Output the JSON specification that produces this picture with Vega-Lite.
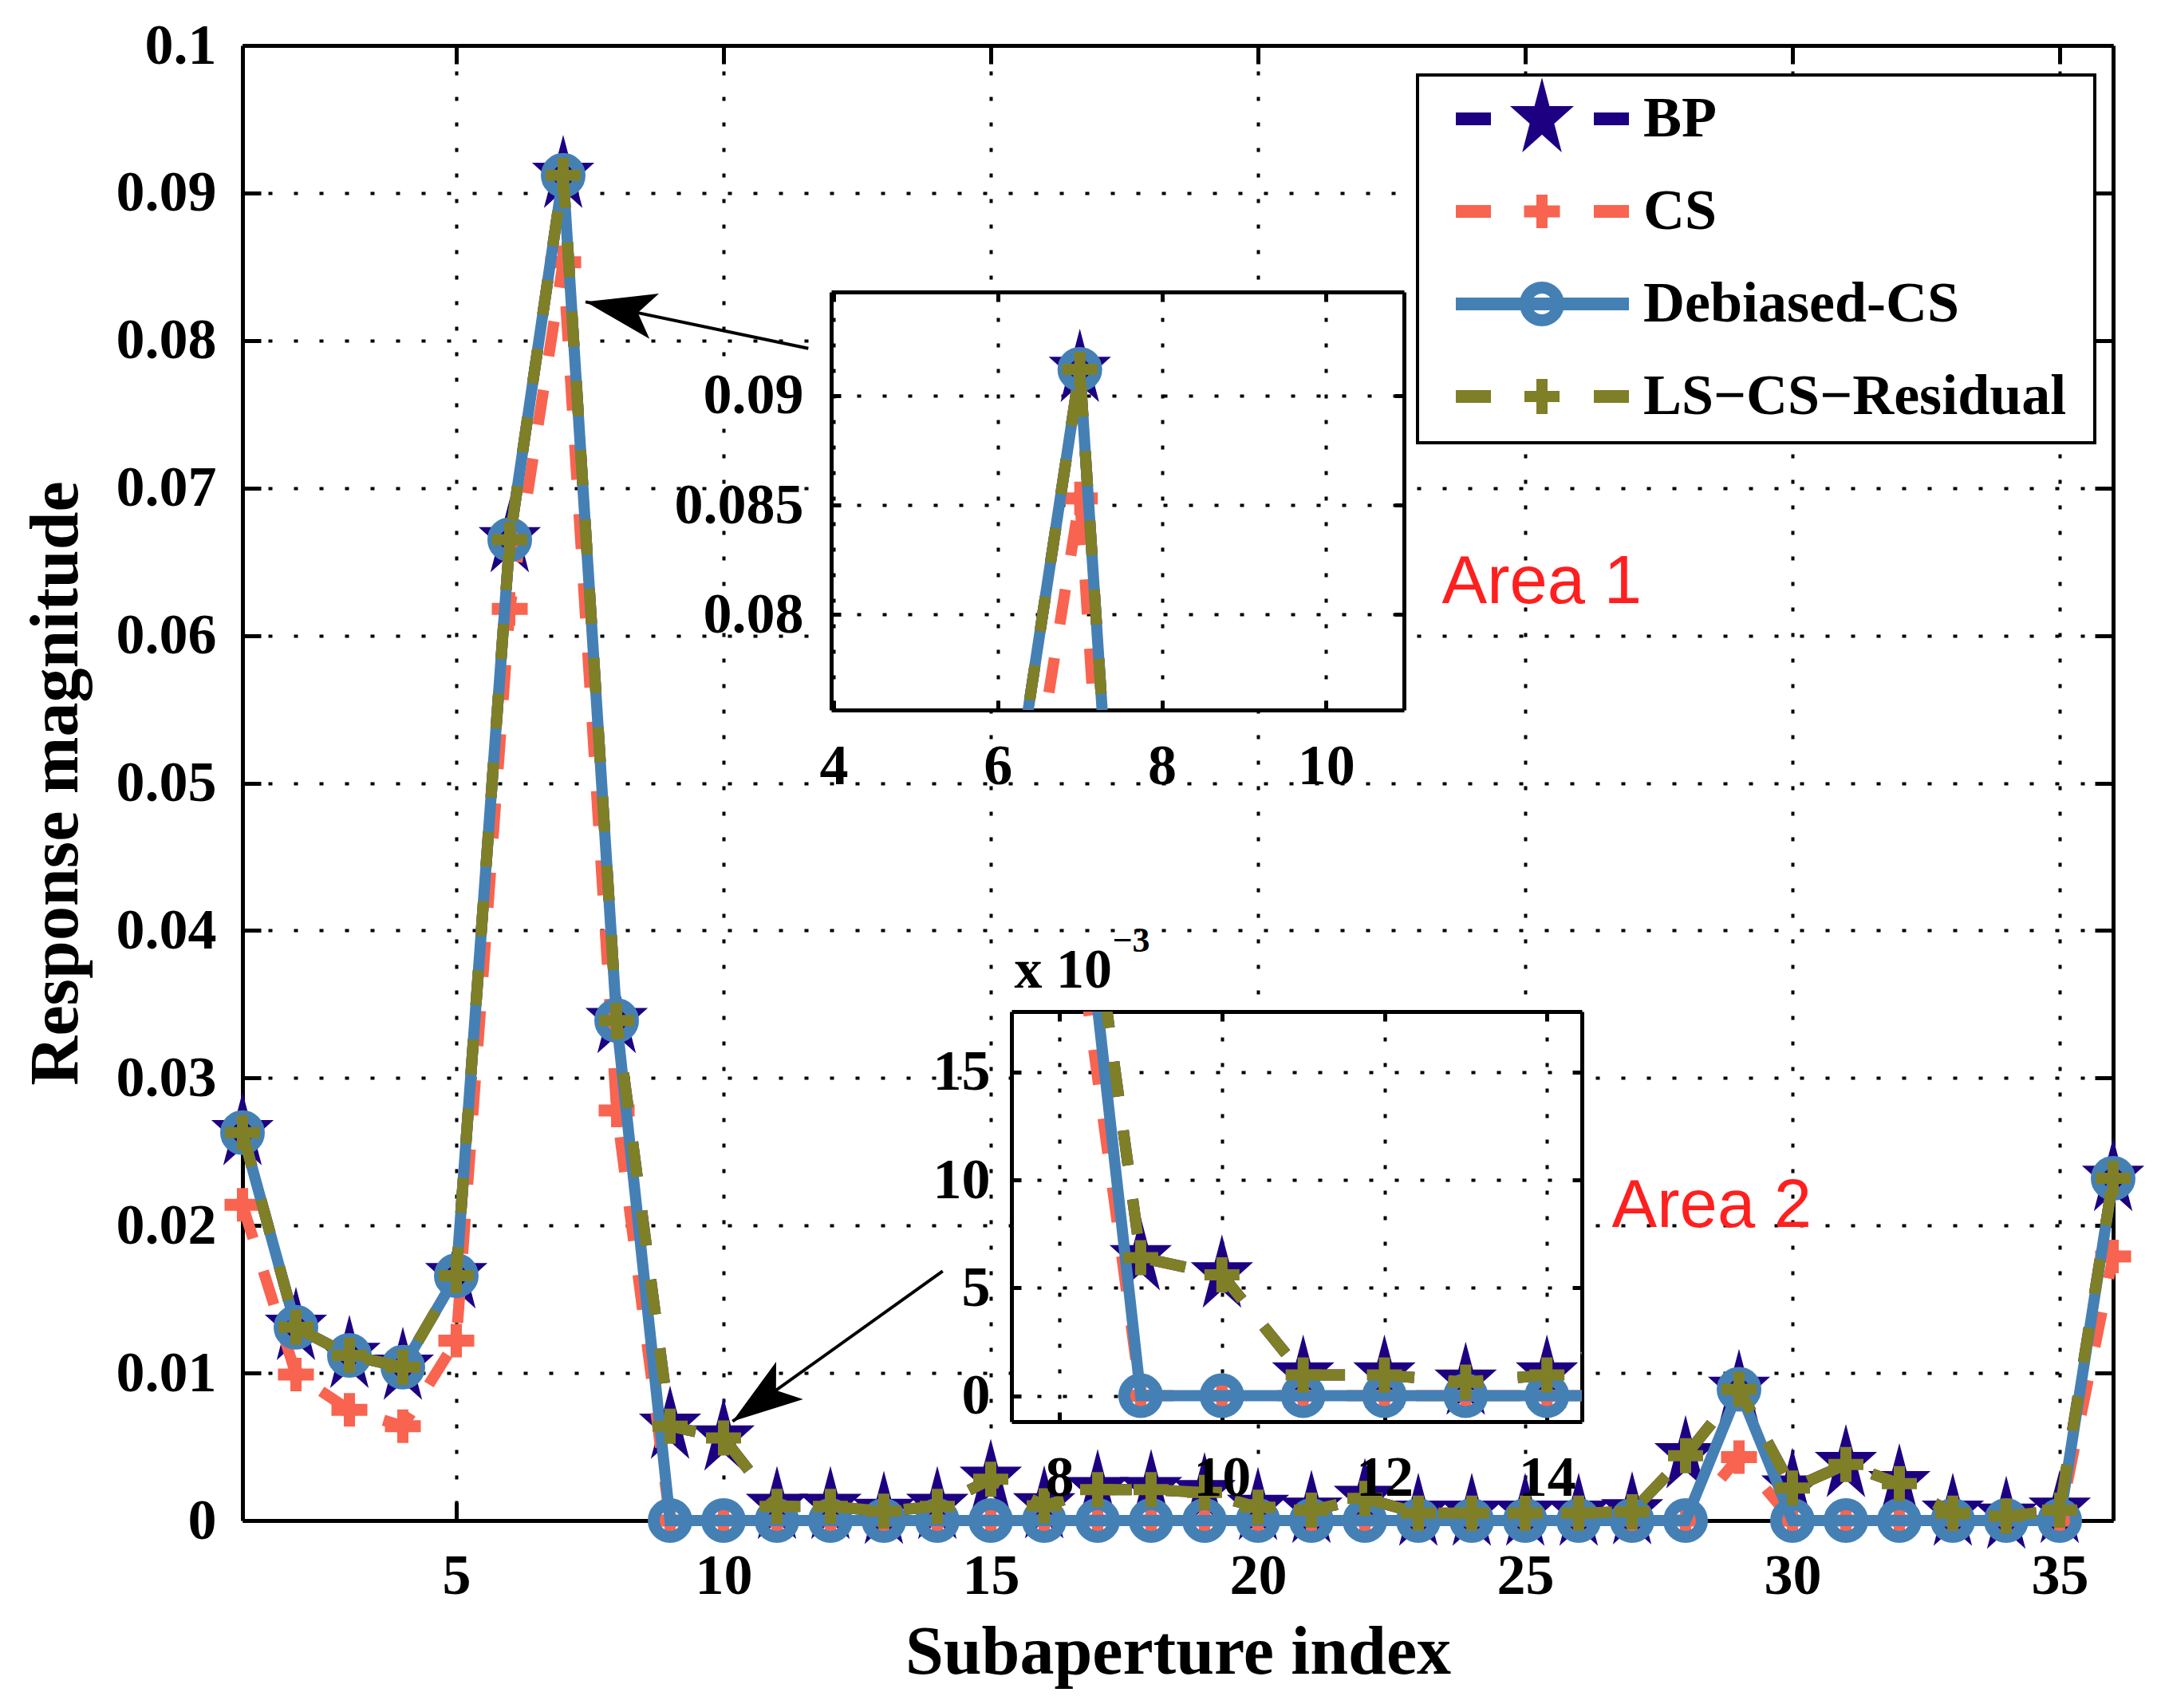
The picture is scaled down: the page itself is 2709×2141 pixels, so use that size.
{
  "$schema": "https://vega.github.io/schema/vega-lite/v6.json",
  "autosize": "none",
  "padding": {"left": 304, "top": 57, "right": 2405, "bottom": 2084},
  "background": "white",
  "config": {
    "view": {"stroke": null, "fill": "white"},
    "legend": {"strokeWidth": 4},
    "axis": {
      "labelFont": "Liberation Serif", "labelFontWeight": "bold", "labelFontSize": 72, "labelColor": "black",
      "titleFont": "Liberation Serif", "titleFontWeight": "bold", "titleFontSize": 86, "titleColor": "black",
      "domainColor": "black", "domainWidth": 5, "tickColor": "black", "tickWidth": 5,
      "gridColor": "black", "gridDash": [5, 27], "gridWidth": 4, "gridOpacity": 1,
      "labelFlush": false, "labelOverlap": false, "labelBound": false
    }
  },
  "datasets": {
    "d": [
      {"s":"BP","i":1,"v":0.0263},{"s":"BP","i":2,"v":0.0131},{"s":"BP","i":3,"v":0.0112},{"s":"BP","i":4,"v":0.0104},{"s":"BP","i":5,"v":0.0166},{"s":"BP","i":6,"v":0.0665},{"s":"BP","i":7,"v":0.0912},{"s":"BP","i":8,"v":0.0339},{"s":"BP","i":9,"v":0.0064},{"s":"BP","i":10,"v":0.0056},{"s":"BP","i":11,"v":0.00096},{"s":"BP","i":12,"v":0.00096},{"s":"BP","i":13,"v":0.00063},{"s":"BP","i":14,"v":0.00096},{"s":"BP","i":15,"v":0.0028},{"s":"BP","i":16,"v":0.001},{"s":"BP","i":17,"v":0.0021},{"s":"BP","i":18,"v":0.0021},{"s":"BP","i":19,"v":0.0019},{"s":"BP","i":20,"v":0.0009},{"s":"BP","i":21,"v":0.0007},{"s":"BP","i":22,"v":0.0015},{"s":"BP","i":23,"v":0.0005},{"s":"BP","i":24,"v":0.0005},{"s":"BP","i":25,"v":0.0005},{"s":"BP","i":26,"v":0.0005},{"s":"BP","i":27,"v":0.0006},{"s":"BP","i":28,"v":0.0044},{"s":"BP","i":29,"v":0.0089},{"s":"BP","i":30,"v":0.0022},{"s":"BP","i":31,"v":0.0038},{"s":"BP","i":32,"v":0.0025},{"s":"BP","i":33,"v":0.0005},{"s":"BP","i":34,"v":0.0003},{"s":"BP","i":35,"v":0.0007},{"s":"BP","i":36,"v":0.0232},
      {"s":"CS","i":1,"v":0.0214},{"s":"CS","i":2,"v":0.0099},{"s":"CS","i":3,"v":0.0075},{"s":"CS","i":4,"v":0.0064},{"s":"CS","i":5,"v":0.0122},{"s":"CS","i":6,"v":0.0618},{"s":"CS","i":7,"v":0.0853},{"s":"CS","i":8,"v":0.0278},{"s":"CS","i":9,"v":0},{"s":"CS","i":10,"v":0},{"s":"CS","i":11,"v":0},{"s":"CS","i":12,"v":0},{"s":"CS","i":13,"v":0},{"s":"CS","i":14,"v":0},{"s":"CS","i":15,"v":0},{"s":"CS","i":16,"v":0},{"s":"CS","i":17,"v":0},{"s":"CS","i":18,"v":0},{"s":"CS","i":19,"v":0},{"s":"CS","i":20,"v":0},{"s":"CS","i":21,"v":0},{"s":"CS","i":22,"v":0},{"s":"CS","i":23,"v":0},{"s":"CS","i":24,"v":0},{"s":"CS","i":25,"v":0},{"s":"CS","i":26,"v":0},{"s":"CS","i":27,"v":0},{"s":"CS","i":28,"v":0},{"s":"CS","i":29,"v":0.0043},{"s":"CS","i":30,"v":0},{"s":"CS","i":31,"v":0},{"s":"CS","i":32,"v":0},{"s":"CS","i":33,"v":0},{"s":"CS","i":34,"v":0},{"s":"CS","i":35,"v":0},{"s":"CS","i":36,"v":0.0179},
      {"s":"DCS","i":1,"v":0.0263},{"s":"DCS","i":2,"v":0.0131},{"s":"DCS","i":3,"v":0.0112},{"s":"DCS","i":4,"v":0.0104},{"s":"DCS","i":5,"v":0.0166},{"s":"DCS","i":6,"v":0.0665},{"s":"DCS","i":7,"v":0.0912},{"s":"DCS","i":8,"v":0.0339},{"s":"DCS","i":9,"v":0},{"s":"DCS","i":10,"v":0},{"s":"DCS","i":11,"v":0},{"s":"DCS","i":12,"v":0},{"s":"DCS","i":13,"v":0},{"s":"DCS","i":14,"v":0},{"s":"DCS","i":15,"v":0},{"s":"DCS","i":16,"v":0},{"s":"DCS","i":17,"v":0},{"s":"DCS","i":18,"v":0},{"s":"DCS","i":19,"v":0},{"s":"DCS","i":20,"v":0},{"s":"DCS","i":21,"v":0},{"s":"DCS","i":22,"v":0},{"s":"DCS","i":23,"v":0},{"s":"DCS","i":24,"v":0},{"s":"DCS","i":25,"v":0},{"s":"DCS","i":26,"v":0},{"s":"DCS","i":27,"v":0},{"s":"DCS","i":28,"v":0},{"s":"DCS","i":29,"v":0.0089},{"s":"DCS","i":30,"v":0},{"s":"DCS","i":31,"v":0},{"s":"DCS","i":32,"v":0},{"s":"DCS","i":33,"v":0},{"s":"DCS","i":34,"v":0},{"s":"DCS","i":35,"v":0},{"s":"DCS","i":36,"v":0.0232},
      {"s":"LS","i":1,"v":0.0263},{"s":"LS","i":2,"v":0.0131},{"s":"LS","i":3,"v":0.0112},{"s":"LS","i":4,"v":0.0104},{"s":"LS","i":5,"v":0.0166},{"s":"LS","i":6,"v":0.0665},{"s":"LS","i":7,"v":0.0912},{"s":"LS","i":8,"v":0.0339},{"s":"LS","i":9,"v":0.0064},{"s":"LS","i":10,"v":0.0056},{"s":"LS","i":11,"v":0.00096},{"s":"LS","i":12,"v":0.00096},{"s":"LS","i":13,"v":0.00063},{"s":"LS","i":14,"v":0.00096},{"s":"LS","i":15,"v":0.0028},{"s":"LS","i":16,"v":0.001},{"s":"LS","i":17,"v":0.0021},{"s":"LS","i":18,"v":0.0021},{"s":"LS","i":19,"v":0.0019},{"s":"LS","i":20,"v":0.0009},{"s":"LS","i":21,"v":0.0007},{"s":"LS","i":22,"v":0.0015},{"s":"LS","i":23,"v":0.0005},{"s":"LS","i":24,"v":0.0005},{"s":"LS","i":25,"v":0.0005},{"s":"LS","i":26,"v":0.0005},{"s":"LS","i":27,"v":0.0006},{"s":"LS","i":28,"v":0.0044},{"s":"LS","i":29,"v":0.0089},{"s":"LS","i":30,"v":0.0022},{"s":"LS","i":31,"v":0.0038},{"s":"LS","i":32,"v":0.0025},{"s":"LS","i":33,"v":0.0005},{"s":"LS","i":34,"v":0.0003},{"s":"LS","i":35,"v":0.0007},{"s":"LS","i":36,"v":0.0232}
    ]
  },
  "resolve": {"scale": {"color": "independent", "shape": "independent"}, "legend": {"color": "independent", "shape": "independent"}},
  "spacing": 0,
  "bounds": "flush",
  "hconcat": [
    {
      "width": 738,
      "height": 1849,
      "data": {"name": "d"},
      "encoding": {
        "x": {"field": "i", "type": "quantitative", "scale": {"domain": [1, 36], "range": [0, 2345], "nice": false, "zero": false}, "axis": null},
        "y": {"field": "v", "type": "quantitative", "scale": {"domain": [0, 0.1], "nice": false, "zero": false}, "axis": null},
        "color": {
          "field": "s", "type": "nominal",
          "scale": {"domain": ["BP", "CS", "DCS", "LS"], "range": ["#1d0082", "#f86450", "#4580b5", "#7f7f27"]},
          "legend": {
            "orient": "none", "legendX": 1473, "legendY": 37, "direction": "vertical", "columns": 1,
            "title": null, "padding": 19, "strokeColor": "black", "fillColor": "white",
            "labelFont": "Liberation Serif", "labelFontWeight": "bold", "labelFontSize": 72, "labelColor": "black",
            "labelLimit": 1000, "labelBaseline": "middle", "labelOffset": 91, "symbolOffset": 101,
            "symbolSize": 4, "symbolStrokeWidth": 0, "symbolStrokeColor": "transparent", "symbolOpacity": 1,
            "rowPadding": 0, "gridAlign": "all",
            "labelExpr": "datum.value === 'DCS' ? 'Debiased-CS' : datum.value === 'LS' ? 'LS−CS−Residual' : datum.value"
          }
        }
      },
      "resolve": {"axis": {"x": "independent", "y": "independent"}},
      "layer": [
        {
          "mark": {"type": "point", "filled": true, "opacity": 0},
          "encoding": {
            "shape": {
              "field": "s", "type": "nominal",
              "scale": {
                "domain": ["BP", "CS", "DCS", "LS"],
                "range": [
                  "M-151,-73.5ZM673.5,39ZM-108,-8H-64V8H-108ZM65,-8H109V8H65ZM0,-52L9.4,-16L40,-16L15.4,6.1L24.8,42L0,19.8L-24.8,42L-15.4,6.1L-40,-16L-9.4,-16Z",
                  "M-151,-73.5ZM673.5,39ZM-108,-8H-64V8H-108ZM65,-8H109V8H65ZM-7,-21H7V21H-7ZM-22.5,-7.5H22.5V7.5H-22.5ZM0,-14L17,0L0,14L-17,0Z",
                  "M-151,-73.5ZM673.5,39ZM-108,-8H109V8H-108ZM-28,0A28,28,0,1,1,28,0A28,28,0,1,1,-28,0ZM-13,0A13,13,0,1,0,13,0A13,13,0,1,0,-13,0Z",
                  "M-151,-73.5ZM673.5,39ZM-108,-8H-64V8H-108ZM65,-8H109V8H65ZM-7,-22H7V22H-7ZM-22,-7H22V7H-22Z"
                ]
              },
              "legend": {
                "orient": "none", "legendX": 1473, "legendY": 37, "direction": "vertical", "columns": 1,
                "title": null, "padding": 19, "strokeColor": "black", "fillColor": "white",
                "labelFont": "Liberation Serif", "labelFontWeight": "bold", "labelFontSize": 72, "labelColor": "black",
                "labelLimit": 1000, "labelBaseline": "middle", "labelOffset": 91, "symbolOffset": 101,
                "symbolSize": 4, "symbolStrokeWidth": 0, "symbolStrokeColor": "transparent", "symbolOpacity": 1,
                "rowPadding": 0, "gridAlign": "all",
                "labelExpr": "datum.value === 'DCS' ? 'Debiased-CS' : datum.value === 'LS' ? 'LS−CS−Residual' : datum.value"
              }
            }
          }
        },
        {
          "mark": {"type": "point", "opacity": 0},
          "encoding": {
            "x": {"field": "i", "type": "quantitative", "scale": {"domain": [1, 36], "range": [0, 2345], "nice": false, "zero": false},
              "axis": {"values": [5, 10, 15, 20, 25, 30, 35], "grid": true, "tickSize": -23, "labelPadding": 57, "title": "Subaperture index", "titleX": 1172.5, "titleY": 191, "titleAlign": "center", "titleBaseline": "alphabetic"}},
            "y": {"field": "v", "type": "quantitative", "scale": {"domain": [0, 0.1], "nice": false, "zero": false},
              "axis": {"values": [0, 0.01, 0.02, 0.03, 0.04, 0.05, 0.06, 0.07, 0.08, 0.09, 0.1], "format": ".2~f", "grid": true, "tickSize": -23, "labelPadding": 56, "title": "Response magnitude", "titleX": -208, "titleBaseline": "alphabetic"}}
          }
        },
        {
          "mark": {"type": "point", "opacity": 0},
          "encoding": {
            "x": {"field": "i", "type": "quantitative", "scale": {"domain": [1, 36], "range": [0, 2345], "nice": false, "zero": false},
              "axis": {"orient": "top", "values": [5, 10, 15, 20, 25, 30, 35], "labels": false, "grid": false, "tickSize": -23, "title": null}},
            "y": {"field": "v", "type": "quantitative", "scale": {"domain": [0, 0.1], "nice": false, "zero": false},
              "axis": {"orient": "right", "offset": 1607, "values": [0, 0.01, 0.02, 0.03, 0.04, 0.05, 0.06, 0.07, 0.08, 0.09, 0.1], "labels": false, "grid": false, "tickSize": -23, "title": null}}
          }
        },
        {"transform": [{"filter": "datum.s === 'BP'"}], "mark": {"type": "line", "strokeWidth": 14, "strokeDash": [44, 43], "strokeCap": "butt", "strokeJoin": "miter"}},
        {"transform": [{"filter": "datum.s === 'BP'"}], "mark": {"type": "point", "shape": "M0,-50.8L9.2,-15.7L39.1,-15.7L15,6L24.2,41.1L0,19.4L-24.2,41.1L-15,6L-39.1,-15.7L-9.2,-15.7Z", "size": 4, "filled": true, "opacity": 1, "strokeWidth": 0}},
        {"transform": [{"filter": "datum.s === 'CS'"}], "mark": {"type": "line", "strokeWidth": 14, "strokeDash": [44, 43], "strokeCap": "butt", "strokeJoin": "miter"}},
        {"transform": [{"filter": "datum.s === 'CS'"}], "mark": {"type": "point", "shape": "M-7,-21H7V21H-7ZM-22.5,-7.5H22.5V7.5H-22.5ZM0,-14L17,0L0,14L-17,0Z", "size": 4, "filled": true, "opacity": 1, "strokeWidth": 0}},
        {"transform": [{"filter": "datum.s === 'DCS'"}], "mark": {"type": "line", "strokeWidth": 14, "strokeCap": "butt", "strokeJoin": "miter"}},
        {"transform": [{"filter": "datum.s === 'DCS'"}], "mark": {"type": "point", "shape": "circle", "size": 1681, "filled": false, "opacity": 1, "strokeWidth": 15}},
        {"transform": [{"filter": "datum.s === 'LS'"}], "mark": {"type": "line", "strokeWidth": 14, "strokeDash": [44, 43], "strokeCap": "butt", "strokeJoin": "miter"}},
        {"transform": [{"filter": "datum.s === 'LS'"}], "mark": {"type": "point", "shape": "M-7,-22H7V22H-7ZM-22,-7H22V7H-22Z", "size": 4, "filled": true, "opacity": 1, "strokeWidth": 0}},
        {
          "transform": [{"filter": "datum.s === 'BP' && datum.i === 1"}],
          "mark": {"type": "rule", "strokeWidth": 4, "color": "black"},
          "encoding": {
            "x": {"datum": 11.587, "type": "quantitative", "axis": null}, "y": {"datum": 0.07946, "type": "quantitative", "axis": null},
            "x2": {"datum": 7.418}, "y2": {"datum": 0.08262}, "color": {"value": "black"}
          }
        },
        {
          "transform": [{"filter": "datum.s === 'BP' && datum.i === 1"}],
          "mark": {"type": "point", "shape": "M0,0L29,88L0,67L-29,88Z", "size": 4, "filled": true, "opacity": 1, "strokeWidth": 0, "angle": 281.8, "color": "black"},
          "encoding": {"x": {"datum": 7.418, "type": "quantitative", "axis": null}, "y": {"datum": 0.08262, "type": "quantitative", "axis": null}, "color": {"value": "black"}}
        },
        {
          "transform": [{"filter": "datum.s === 'BP' && datum.i === 1"}],
          "mark": {"type": "rule", "strokeWidth": 4, "color": "black"},
          "encoding": {
            "x": {"datum": 14.1, "type": "quantitative", "axis": null}, "y": {"datum": 0.01691, "type": "quantitative", "axis": null},
            "x2": {"datum": 10.169}, "y2": {"datum": 0.006723}, "color": {"value": "black"}
          }
        },
        {
          "transform": [{"filter": "datum.s === 'BP' && datum.i === 1"}],
          "mark": {"type": "point", "shape": "M0,0L29,88L0,67L-29,88Z", "size": 4, "filled": true, "opacity": 1, "strokeWidth": 0, "angle": 234.4, "color": "black"},
          "encoding": {"x": {"datum": 10.169, "type": "quantitative", "axis": null}, "y": {"datum": 0.006723, "type": "quantitative", "axis": null}, "color": {"value": "black"}}
        },
        {
          "transform": [{"filter": "datum.s === 'BP' && datum.i === 1"}],
          "mark": {"type": "text", "font": "Liberation Sans", "fontSize": 85, "align": "center", "baseline": "middle", "color": "#ff1f1f"},
          "encoding": {"x": {"datum": 25.31, "type": "quantitative", "axis": null}, "y": {"datum": 0.0636, "type": "quantitative", "axis": null}, "text": {"value": "Area 1"}, "color": {"value": "#ff1f1f"}}
        },
        {
          "transform": [{"filter": "datum.s === 'BP' && datum.i === 1"}],
          "mark": {"type": "text", "font": "Liberation Sans", "fontSize": 85, "align": "center", "baseline": "middle", "color": "#ff1f1f"},
          "encoding": {"x": {"datum": 28.49, "type": "quantitative", "axis": null}, "y": {"datum": 0.02132, "type": "quantitative", "axis": null}, "text": {"value": "Area 2"}, "color": {"value": "#ff1f1f"}}
        }
      ]
    },
    {
      "spacing": 0,
      "bounds": "flush",
      "vconcat": [
        {"width": 1, "height": 309, "data": {"values": []}, "mark": "point"},
        {
          "width": 718,
          "height": 524,
          "data": {"name": "d"},
          "encoding": {
            "x": {"field": "i", "type": "quantitative", "scale": {"domain": [3.97, 10.95], "nice": false, "zero": false}, "axis": null},
            "y": {"field": "v", "type": "quantitative", "scale": {"domain": [0.07564, 0.09473], "nice": false, "zero": false}, "axis": null},
            "color": {"field": "s", "type": "nominal", "scale": {"domain": ["BP", "CS", "DCS", "LS"], "range": ["#1d0082", "#f86450", "#4580b5", "#7f7f27"]}, "legend": null}
          },
          "resolve": {"axis": {"x": "independent", "y": "independent"}},
          "layer": [
            {
              "mark": {"type": "point", "opacity": 0, "clip": true},
              "encoding": {
                "x": {"field": "i", "type": "quantitative", "scale": {"domain": [3.97, 10.95], "nice": false, "zero": false},
                  "axis": {"values": [4, 6, 8, 10], "grid": true, "tickSize": -12, "labelPadding": 47, "title": null}},
                "y": {"field": "v", "type": "quantitative", "scale": {"domain": [0.07564, 0.09473], "nice": false, "zero": false},
                  "axis": {"values": [0.08, 0.085, 0.09], "format": ".3~f", "grid": true, "tickSize": -12, "labelPadding": 47, "title": null}}
              }
            },
            {
              "mark": {"type": "point", "opacity": 0, "clip": true},
              "encoding": {
                "x": {"field": "i", "type": "quantitative", "scale": {"domain": [3.97, 10.95], "nice": false, "zero": false},
                  "axis": {"orient": "top", "values": [4, 6, 8, 10], "labels": false, "grid": false, "tickSize": -12, "title": null}},
                "y": {"field": "v", "type": "quantitative", "scale": {"domain": [0.07564, 0.09473], "nice": false, "zero": false},
                  "axis": {"orient": "right", "values": [0.08, 0.085, 0.09], "labels": false, "grid": false, "tickSize": -12, "title": null}}
              }
            },
            {"transform": [{"filter": "datum.s === 'BP'"}], "mark": {"type": "line", "clip": true, "strokeWidth": 14, "strokeDash": [44, 43], "strokeCap": "butt", "strokeJoin": "miter"}},
            {"transform": [{"filter": "datum.s === 'BP'"}], "mark": {"type": "point", "clip": true, "shape": "M0,-50.8L9.2,-15.7L39.1,-15.7L15,6L24.2,41.1L0,19.4L-24.2,41.1L-15,6L-39.1,-15.7L-9.2,-15.7Z", "size": 4, "filled": true, "opacity": 1, "strokeWidth": 0}},
            {"transform": [{"filter": "datum.s === 'CS'"}], "mark": {"type": "line", "clip": true, "strokeWidth": 14, "strokeDash": [44, 43], "strokeCap": "butt", "strokeJoin": "miter"}},
            {"transform": [{"filter": "datum.s === 'CS'"}], "mark": {"type": "point", "clip": true, "shape": "M-7,-21H7V21H-7ZM-22.5,-7.5H22.5V7.5H-22.5ZM0,-14L17,0L0,14L-17,0Z", "size": 4, "filled": true, "opacity": 1, "strokeWidth": 0}},
            {"transform": [{"filter": "datum.s === 'DCS'"}], "mark": {"type": "line", "clip": true, "strokeWidth": 14, "strokeCap": "butt", "strokeJoin": "miter"}},
            {"transform": [{"filter": "datum.s === 'DCS'"}], "mark": {"type": "point", "clip": true, "shape": "circle", "size": 1681, "filled": false, "opacity": 1, "strokeWidth": 15}},
            {"transform": [{"filter": "datum.s === 'LS'"}], "mark": {"type": "line", "clip": true, "strokeWidth": 14, "strokeDash": [44, 43], "strokeCap": "butt", "strokeJoin": "miter"}},
            {"transform": [{"filter": "datum.s === 'LS'"}], "mark": {"type": "point", "clip": true, "shape": "M-7,-22H7V22H-7ZM-22,-7H22V7H-22Z", "size": 4, "filled": true, "opacity": 1, "strokeWidth": 0}}
          ]
        },
        {"width": 1, "height": 378, "data": {"values": []}, "mark": "point"},
        {
          "spacing": 0,
          "bounds": "flush",
          "hconcat": [
            {"width": 226, "height": 1, "data": {"values": []}, "mark": "point"},
            {
              "width": 715,
              "height": 514,
              "data": {"name": "d"},
              "encoding": {
                "x": {"field": "i", "type": "quantitative", "scale": {"domain": [7.41, 14.43], "nice": false, "zero": false}, "axis": null},
                "y": {"field": "v", "type": "quantitative", "scale": {"domain": [-0.0012, 0.0178], "nice": false, "zero": false}, "axis": null},
                "color": {"field": "s", "type": "nominal", "scale": {"domain": ["BP", "CS", "DCS", "LS"], "range": ["#1d0082", "#f86450", "#4580b5", "#7f7f27"]}, "legend": null}
              },
              "resolve": {"axis": {"x": "independent", "y": "independent"}},
              "layer": [
                {
                  "mark": {"type": "point", "opacity": 0, "clip": true},
                  "encoding": {
                    "x": {"field": "i", "type": "quantitative", "scale": {"domain": [7.41, 14.43], "nice": false, "zero": false},
                      "axis": {"values": [8, 10, 12, 14], "grid": true, "tickSize": -12, "labelPadding": 47, "title": null}},
                    "y": {"field": "v", "type": "quantitative", "scale": {"domain": [-0.0012, 0.0178], "nice": false, "zero": false},
                      "axis": {"values": [0, 0.005, 0.01, 0.015], "labelExpr": "round(datum.value * 1000)", "grid": true, "tickSize": -12, "labelPadding": 39,
                        "title": "x 10", "titleAngle": 0, "titleAlign": "left", "titleBaseline": "alphabetic", "titleX": 3, "titleY": -31, "titleFontSize": 70}}
                  }
                },
                {
                  "mark": {"type": "point", "opacity": 0, "clip": true},
                  "encoding": {
                    "x": {"field": "i", "type": "quantitative", "scale": {"domain": [7.41, 14.43], "nice": false, "zero": false},
                      "axis": {"orient": "top", "values": [8, 10, 12, 14], "labels": false, "grid": false, "tickSize": -12,
                        "title": "−3", "titleAngle": 0, "titleAlign": "left", "titleBaseline": "alphabetic", "titleX": 126, "titleY": -76, "titleFontSize": 44}},
                    "y": {"field": "v", "type": "quantitative", "scale": {"domain": [-0.0012, 0.0178], "nice": false, "zero": false},
                      "axis": {"orient": "right", "values": [0, 0.005, 0.01, 0.015], "labels": false, "grid": false, "tickSize": -12, "title": null}}
                  }
                },
                {"transform": [{"filter": "datum.s === 'BP'"}], "mark": {"type": "line", "clip": true, "strokeWidth": 14, "strokeDash": [44, 43], "strokeCap": "butt", "strokeJoin": "miter"}},
                {"transform": [{"filter": "datum.s === 'BP'"}], "mark": {"type": "point", "clip": true, "shape": "M0,-50.8L9.2,-15.7L39.1,-15.7L15,6L24.2,41.1L0,19.4L-24.2,41.1L-15,6L-39.1,-15.7L-9.2,-15.7Z", "size": 4, "filled": true, "opacity": 1, "strokeWidth": 0}},
                {"transform": [{"filter": "datum.s === 'CS'"}], "mark": {"type": "line", "clip": true, "strokeWidth": 14, "strokeDash": [44, 43], "strokeCap": "butt", "strokeJoin": "miter"}},
                {"transform": [{"filter": "datum.s === 'CS'"}], "mark": {"type": "point", "clip": true, "shape": "M-7,-21H7V21H-7ZM-22.5,-7.5H22.5V7.5H-22.5ZM0,-14L17,0L0,14L-17,0Z", "size": 4, "filled": true, "opacity": 1, "strokeWidth": 0}},
                {"transform": [{"filter": "datum.s === 'DCS'"}], "mark": {"type": "line", "clip": true, "strokeWidth": 14, "strokeCap": "butt", "strokeJoin": "miter"}},
                {"transform": [{"filter": "datum.s === 'DCS'"}], "mark": {"type": "point", "clip": true, "shape": "circle", "size": 1681, "filled": false, "opacity": 1, "strokeWidth": 15}},
                {"transform": [{"filter": "datum.s === 'LS'"}], "mark": {"type": "line", "clip": true, "strokeWidth": 14, "strokeDash": [44, 43], "strokeCap": "butt", "strokeJoin": "miter"}},
                {"transform": [{"filter": "datum.s === 'LS'"}], "mark": {"type": "point", "clip": true, "shape": "M-7,-22H7V22H-7ZM-22,-7H22V7H-22Z", "size": 4, "filled": true, "opacity": 1, "strokeWidth": 0}}
              ]
            }
          ]
        }
      ]
    }
  ]
}
